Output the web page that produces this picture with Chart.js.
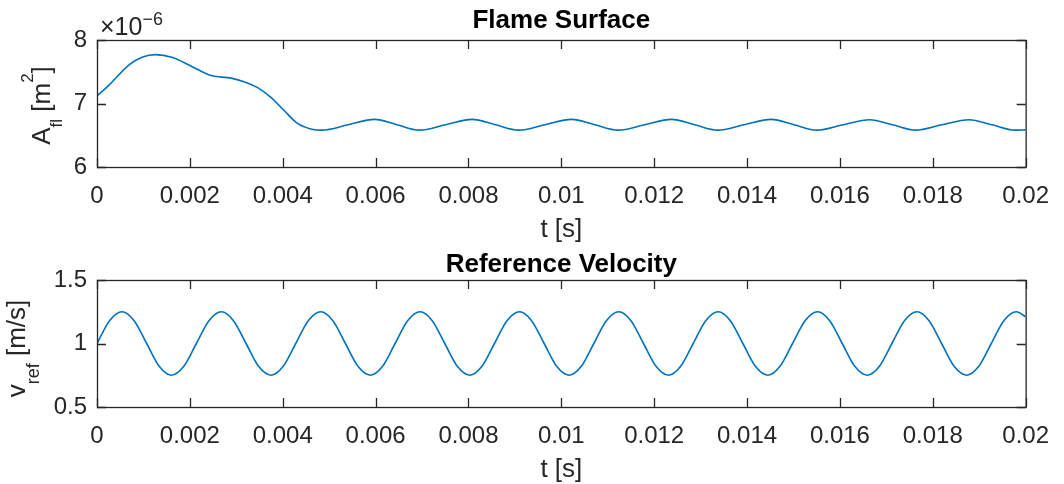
<!DOCTYPE html>
<html>
<head>
<meta charset="utf-8">
<title>Flame Surface / Reference Velocity</title>
<script src="https://cdn.jsdelivr.net/npm/chart.js@4.4.1/dist/chart.umd.min.js"></script>
<style>
  html, body { margin: 0; padding: 0; background: #fff; }
  #wrap { position: relative; width: 1064px; height: 484px; }
  canvas { position: absolute; left: 0; }
  #flameChart { top: 0; }
  #velChart { top: 242px; }
</style>
</head>
<body>
<div id="wrap">
  <canvas id="flameChart" width="1064" height="242"></canvas>
  <canvas id="velChart" width="1064" height="242"></canvas>
</div>
<script>
// time axis ticks [s]
const tTicks = [0, 0.002, 0.004, 0.006, 0.008, 0.01, 0.012, 0.014, 0.016, 0.018, 0.02];
const flameTicks = [6, 7, 8];        // x 1e-6 m^2
const velTicks = [0.5, 1, 1.5];      // m/s

// flame surface A_fl, values in 1e-6 m^2
const flameTime = [
  0, 0.00026, 0.00069, 0.00097, 0.00126, 0.00161, 0.00197, 0.00218, 0.00246, 0.00289,
  0.00318, 0.00346, 0.00374, 0.00403, 0.00431, 0.0046, 0.00485,
  0.00541, 0.00598, 0.00646, 0.00694, 0.00751, 0.00808, 0.00858, 0.00908,
  0.00965, 0.01022, 0.01072, 0.01122, 0.0118, 0.01237, 0.01287, 0.01336,
  0.01394, 0.01452, 0.01501, 0.01551, 0.01607, 0.01664, 0.01713, 0.01763,
  0.0182, 0.01878, 0.01927, 0.01977, 0.02
];
const flameArea = [
  7.12, 7.29, 7.61, 7.73, 7.77, 7.73, 7.61, 7.53, 7.44, 7.40,
  7.34, 7.25, 7.10, 6.89, 6.69, 6.60, 6.58,
  6.665, 6.75, 6.665, 6.58, 6.665, 6.75, 6.665, 6.58,
  6.665, 6.75, 6.665, 6.58, 6.665, 6.75, 6.665, 6.58,
  6.665, 6.75, 6.665, 6.58, 6.665, 6.745, 6.665, 6.58,
  6.665, 6.745, 6.665, 6.58, 6.585
];

// reference velocity v_ref [m/s]
const velTime = [
  0, 0.00027, 0.00054, 0.0008, 0.00107, 0.00134, 0.0016, 0.00187,
  0.00214, 0.00241, 0.00268, 0.00294, 0.00321, 0.00348, 0.00375, 0.00401,
  0.00428, 0.00455, 0.00482, 0.00508, 0.00535, 0.00562, 0.00589, 0.00615,
  0.00642, 0.00669, 0.00696, 0.00722, 0.00749, 0.00776, 0.00803, 0.00829,
  0.00856, 0.00883, 0.0091, 0.00936, 0.00963, 0.0099, 0.01017, 0.01043,
  0.0107, 0.01097, 0.01124, 0.0115, 0.01177, 0.01204, 0.01231, 0.01257,
  0.01284, 0.01311, 0.01338, 0.01364, 0.01391, 0.01418, 0.01445, 0.01471,
  0.01498, 0.01525, 0.01552, 0.01578, 0.01605, 0.01632, 0.01659, 0.01685,
  0.01712, 0.01739, 0.01766, 0.01792, 0.01819, 0.01846, 0.01873, 0.01899,
  0.01926, 0.01953, 0.0198, 0.02
];
const velRef = [
  1, 1.18, 1.25, 1.18, 1, 0.82, 0.75, 0.82,
  1, 1.18, 1.25, 1.18, 1, 0.82, 0.75, 0.82,
  1, 1.18, 1.25, 1.18, 1, 0.82, 0.75, 0.82,
  1, 1.18, 1.25, 1.18, 1, 0.82, 0.75, 0.82,
  1, 1.18, 1.25, 1.18, 1, 0.82, 0.75, 0.82,
  1, 1.18, 1.25, 1.18, 1, 0.82, 0.75, 0.82,
  1, 1.18, 1.25, 1.18, 1, 0.82, 0.75, 0.82,
  1, 1.18, 1.25, 1.18, 1, 0.82, 0.75, 0.82,
  1, 1.18, 1.25, 1.18, 1, 0.82, 0.75, 0.82,
  1, 1.18, 1.25, 1.21
];

const FONT = '"Liberation Sans", Arial, Helvetica, sans-serif';
const AXIS_COLOR = "#262626";
const LINE_COLOR = "#0072BD";

// per-canvas decorations: title, rich y label (sub/superscripts), exponent
const decorations = {
  flameChart: {
    title: "Flame Surface",
    titleGap: 12,
    yLabelX: 50,
    yLabelShift: 2,
    yLabel: [
      { text: "A", size: 26, shift: 0 },
      { text: "fl", size: 17, shift: 12 },
      { text: " [m", size: 26, shift: 0 },
      { text: "2", size: 17, shift: -17 },
      { text: "]", size: 26, shift: 0 },
    ],
    exponent: [
      { text: "\u00d710", size: 25, shift: 0 },
      { text: "\u22126", size: 18, shift: -10 },
    ],
  },
  velChart: {
    title: "Reference Velocity",
    titleGap: 8,
    yLabelX: 25,
    yLabelShift: 5,
    yLabel: [
      { text: "v", size: 26, shift: 0 },
      { text: "ref", size: 18, shift: 14 },
      { text: " [m/s]", size: 26, shift: 0 },
    ],
    exponent: null,
  },
};

// draws a run of text pieces (normal / sub / sup) left to right
function drawRich(ctx, parts, x, y) {
  let cx = x;
  parts.forEach((p) => {
    ctx.font = p.size + "px " + FONT;
    ctx.fillText(p.text, cx, y + p.shift);
    cx += ctx.measureText(p.text).width;
  });
}

function richWidth(ctx, parts) {
  let w = 0;
  parts.forEach((p) => {
    ctx.font = p.size + "px " + FONT;
    w += ctx.measureText(p.text).width;
  });
  return w;
}

// box, inward ticks on all four sides, title and labels
const matlabAxes = {
  id: "matlabAxes",
  afterDraw(chart) {
    const deco = decorations[chart.canvas.id];
    const ctx = chart.ctx;
    const a = chart.chartArea;
    const xs = chart.scales.x;
    const ys = chart.scales.y;
    const tl = 9;
    ctx.save();
    ctx.strokeStyle = AXIS_COLOR;
    ctx.lineWidth = 1.3;
    ctx.beginPath();
    xs.ticks.forEach((t) => {
      const px = Math.round(xs.getPixelForValue(t.value)) + 0.5;
      ctx.moveTo(px, a.bottom);
      ctx.lineTo(px, a.bottom - tl);
      ctx.moveTo(px, a.top);
      ctx.lineTo(px, a.top + tl);
    });
    ys.ticks.forEach((t) => {
      const py = Math.round(ys.getPixelForValue(t.value)) + 0.5;
      ctx.moveTo(a.left, py);
      ctx.lineTo(a.left + tl, py);
      ctx.moveTo(a.right, py);
      ctx.lineTo(a.right - tl, py);
    });
    ctx.stroke();
    ctx.strokeRect(a.left + 0.5, a.top + 0.5, a.right - a.left, a.bottom - a.top);

    const midX = (a.left + a.right) / 2;
    const midY = (a.top + a.bottom) / 2;

    // title
    ctx.fillStyle = "#000";
    ctx.textAlign = "center";
    ctx.textBaseline = "alphabetic";
    ctx.font = "bold 26px " + FONT;
    ctx.fillText(deco.title, midX, a.top - deco.titleGap);

    // x label
    ctx.fillStyle = AXIS_COLOR;
    ctx.font = "26px " + FONT;
    ctx.fillText("t [s]", midX, a.bottom + 70);

    // y label, rotated
    ctx.textAlign = "left";
    ctx.save();
    ctx.translate(deco.yLabelX, midY + deco.yLabelShift);
    ctx.rotate(-Math.PI / 2);
    const w = richWidth(ctx, deco.yLabel);
    drawRich(ctx, deco.yLabel, -w / 2, 0);
    ctx.restore();

    // exponent marker
    if (deco.exponent) {
      drawRich(ctx, deco.exponent, a.left + 3, a.top - 5);
    }
    ctx.restore();
  },
};

function makeChart(canvas, cfg) {
  return new Chart(canvas, {
    type: "line",
    data: {
      datasets: [
        {
          data: cfg.time.map((t, i) => ({ x: t, y: cfg.values[i] })),
          borderColor: LINE_COLOR,
          borderWidth: 1.6,
          pointRadius: 0,
          fill: false,
          cubicInterpolationMode: "monotone",
        },
      ],
    },
    options: {
      responsive: false,
      animation: false,
      devicePixelRatio: 1,
      layout: { padding: { top: cfg.top, right: 28, left: 0, bottom: 0 } },
      plugins: {
        legend: { display: false },
        tooltip: { enabled: false },
      },
      scales: {
        x: {
          type: "linear",
          min: 0,
          max: 0.02,
          grid: { display: false, drawTicks: false },
          border: { display: false },
          afterBuildTicks: (s) => { s.ticks = tTicks.map((v) => ({ value: v })); },
          afterFit: (s) => { s.height = cfg.xHeight; },
          ticks: {
            autoSkip: false,
            maxRotation: 0,
            padding: 15,
            color: AXIS_COLOR,
            font: { family: FONT, size: 24 },
            callback: (v) => String(+v.toFixed(3)),
          },
        },
        y: {
          min: cfg.yTicks[0],
          max: cfg.yTicks[cfg.yTicks.length - 1],
          grid: { display: false, drawTicks: false },
          border: { display: false },
          afterBuildTicks: (s) => { s.ticks = cfg.yTicks.map((v) => ({ value: v })); },
          afterFit: (s) => { s.width = 97; },
          ticks: {
            autoSkip: false,
            padding: 10,
            color: AXIS_COLOR,
            font: { family: FONT, size: 24 },
            callback: (v) => String(v),
          },
        },
      },
    },
    plugins: [matlabAxes],
  });
}

makeChart(document.getElementById("flameChart"), {
  time: flameTime,
  values: flameArea,
  yTicks: flameTicks,
  top: 40,
  xHeight: 75,
});

makeChart(document.getElementById("velChart"), {
  time: velTime,
  values: velRef,
  yTicks: velTicks,
  top: 38,
  xHeight: 77,
});
</script>
</body>
</html>
